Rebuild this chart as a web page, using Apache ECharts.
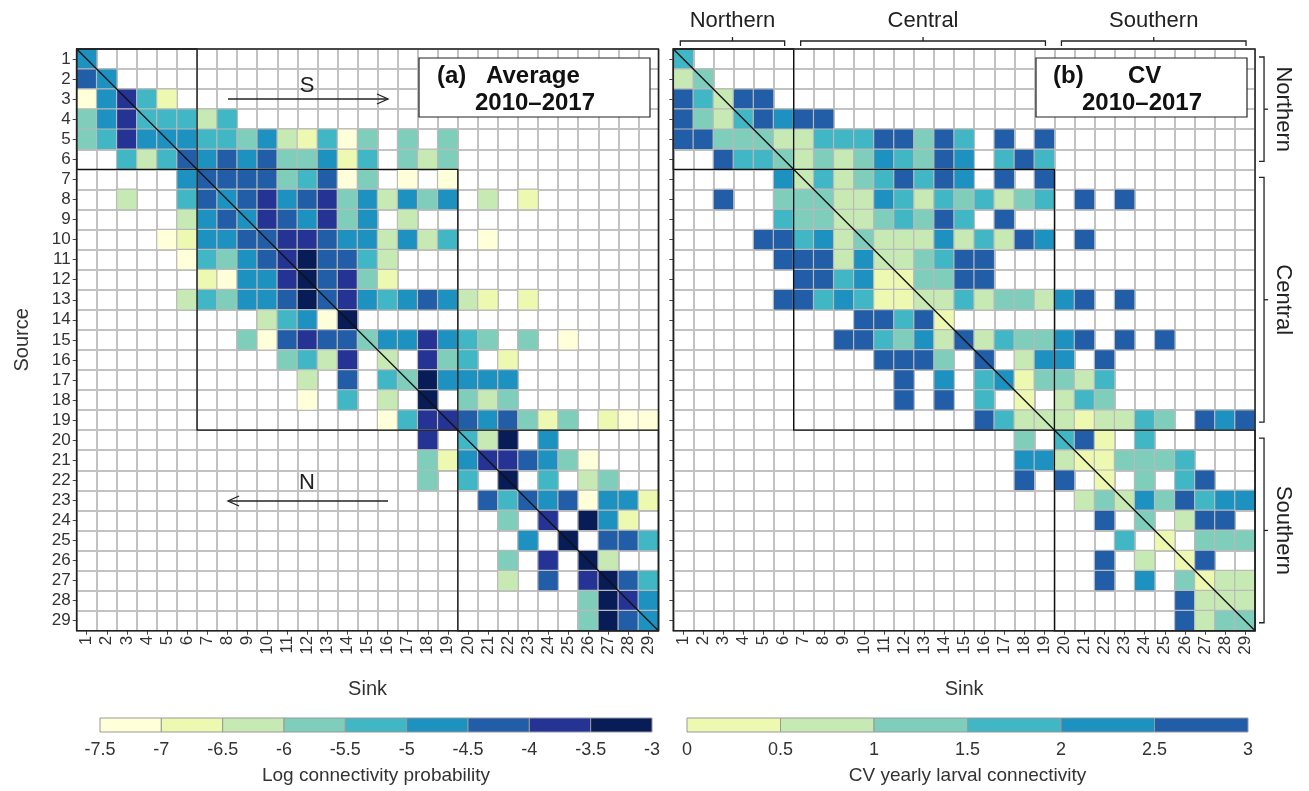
<!DOCTYPE html>
<html>
<head>
<meta charset="utf-8">
<title>Larval connectivity 2010-2017</title>
<script src="https://cdn.jsdelivr.net/npm/echarts@6/dist/echarts.min.js"></script>
<style>
  html, body { margin: 0; padding: 0; background: #fff; }
  #chart { width: 1309px; height: 791px; }
</style>
</head>
<body>
<div id="chart"></div>
<script>
const _ = null

// sites 1..29, source = rows, sink = columns
const sites = Array.from({ length: 29 }, (v, i) => String(i + 1))

// first sink holding a value in each source row (same cells in both panels)
const rowStart = [1, 1, 1, 1, 1, 3, 6, 3, 6, 5, 6, 7, 6, 10, 9, 11, 12, 12, 16, 18, 18, 18, 21, 22, 23, 22, 22, 26, 26]

// (a) average log connectivity probability
const avgLog = [
  [-4.8],
  [-4.2, -4.8],
  [-7.2, -4.8, -3.8, -5.2, -6.8],
  [-5.8, -4.8, -3.8, -5.2, -5.2, -5.2, -6.2, -5.2],
  [-5.8, -5.2, -3.8, -4.8, -4.8, -4.8, -5.2, -5.2, -5.8, -4.8, -6.2, -6.8, -5.2, -7.2, -5.8, _, -5.8, _, -5.8],
  [-5.2, -6.2, -5.2, -4.2, -4.8, -4.2, -4.8, -4.2, -5.8, -5.8, -4.8, -6.8, -5.2, _, -5.8, -6.2, -5.8],
  [-4.8, -4.2, -4.2, -4.2, -4.2, -5.8, -5.2, -4.2, -7.2, -5.8, _, -7.2, _, -7.2],
  [-6.2, _, _, -5.2, -4.2, -4.8, -4.2, -3.8, -4.8, -4.2, -3.8, -5.8, -4.8, -6.2, -4.8, -5.8, -4.8, _, -6.2, _, -6.8],
  [-6.2, -4.8, -4.2, -4.8, -3.8, -4.2, -4.8, -3.8, -5.8, -4.8, _, -6.2],
  [-7.2, -6.8, -4.8, -4.8, -4.2, -4.2, -3.8, -3.8, -4.2, -4.8, -4.8, -6.2, -4.8, -6.2, -5.2, _, -7.2],
  [-7.2, -5.2, -5.8, -4.8, -4.2, -3.8, -3.2, -4.2, -4.2, -5.2, -6.2],
  [-6.8, -7.2, -4.8, -4.8, -3.8, -3.2, -4.2, -3.8, -5.8, -6.8],
  [-6.2, -5.2, -5.8, -4.8, -4.8, -4.2, -3.2, -4.2, -3.8, -4.8, -5.2, -4.8, -4.2, -4.8, -6.2, -6.8, _, -6.8],
  [-6.2, -5.2, -4.8, -7.2, -3.2],
  [-5.8, -7.2, -4.2, -3.8, -4.2, -4.2, -5.8, -4.8, -4.8, -3.8, -4.8, -5.2, -5.8, _, -5.8, _, -7.2],
  [-5.8, -5.2, -6.2, -3.8, _, -6.2, _, -3.8, -5.8, -5.2, _, -6.8],
  [-6.2, _, -4.2, _, -5.2, -5.8, -3.2, -4.8, -4.8, -4.8, -4.8],
  [-7.2, _, -5.2, _, -6.2, _, -3.2, _, -5.8, -6.2, -5.8],
  [-7.2, -5.2, -3.8, -3.8, -4.2, -4.8, -4.2, -5.8, -6.8, -5.8, _, -6.8, -7.2, -7.2],
  [-3.8, _, -5.2, -6.2, -3.2, _, -4.8],
  [-5.8, -6.8, -4.8, -3.8, -3.8, -4.2, -4.8, -5.8, -7.2],
  [-5.8, _, -5.2, _, -3.2, _, -5.2, _, -6.2, -5.8],
  [-4.2, -5.2, -4.2, -4.8, -4.2, -7.2, -4.8, -4.8, -6.8],
  [-5.8, _, -3.8, _, -3.2, -4.8, -6.8],
  [-4.8, _, -3.2, _, -4.2, -4.2, -5.2],
  [-5.8, _, -3.8, _, -3.2, -6.2],
  [-6.2, _, -4.2, _, -3.8, -3.2, -4.2, -5.2],
  [-5.8, -3.2, -3.8, -4.8],
  [-5.8, -3.2, -4.2, -4.8]
]

// (b) CV of yearly larval connectivity
const cvYearly = [
  [1.8],
  [0.8, 1.2],
  [2.8, 1.8, 0.8, 2.8, 2.8],
  [2.8, 1.2, 0.8, 1.8, 2.8, 2.2, 2.8, 2.8],
  [2.8, 2.8, 1.2, 1.2, 1.2, 0.8, 0.8, 1.8, 1.8, 1.8, 2.8, 2.8, 1.2, 2.8, 1.8, _, 2.8, _, 2.8],
  [2.8, 1.8, 1.8, 1.2, 0.8, 1.2, 0.8, 1.2, 2.2, 1.8, 1.2, 2.8, 2.2, _, 1.8, 2.8, 1.8],
  [2.2, 0.8, 1.8, 0.8, 1.2, 1.8, 2.8, 1.8, 2.8, 2.2, _, 2.8, _, 2.8],
  [2.8, _, _, 1.2, 1.2, 1.2, 0.8, 0.8, 2.2, 1.8, 0.8, 1.8, 1.2, 1.8, 0.8, 1.2, 1.8, _, 2.8, _, 2.8],
  [1.8, 1.2, 1.2, 0.8, 0.8, 1.2, 1.8, 1.2, 2.8, 1.8, _, 2.8],
  [2.8, 2.8, 1.8, 2.2, 0.8, 1.2, 0.8, 0.8, 0.8, 2.2, 0.8, 1.8, 0.8, 2.8, 2.2, _, 2.8],
  [2.8, 2.8, 2.8, 0.8, 2.2, 0.8, 0.8, 1.2, 1.8, 2.8, 2.8],
  [2.8, 2.8, 1.8, 2.2, 0.2, 0.2, 1.2, 1.2, 2.8, 2.8],
  [2.8, 2.8, 1.8, 2.2, 1.8, 0.2, 0.2, 0.8, 0.8, 1.8, 0.8, 1.2, 1.2, 0.8, 2.2, 2.8, _, 2.8],
  [2.8, 2.8, 1.8, 2.8, 0.2],
  [2.8, 2.8, 1.8, 1.2, 2.2, 0.8, 2.8, 0.8, 1.8, 1.2, 1.2, 2.2, 2.8, _, 2.8, _, 2.8],
  [2.8, 2.8, 2.8, 1.2, _, 2.8, _, 0.8, 2.2, 2.2, _, 2.8],
  [2.8, _, 2.2, _, 1.8, 2.2, 0.2, 1.2, 1.2, 0.8, 1.8],
  [2.8, _, 2.8, _, 1.8, _, 0.2, _, 0.8, 1.8, 1.2],
  [2.8, 1.8, 0.8, 0.8, 0.8, 0.2, 0.8, 0.8, 1.8, 1.2, _, 2.8, 2.2, 2.8],
  [1.2, _, 1.8, 2.8, 0.2, _, 1.8],
  [2.2, 2.2, 0.8, 0.2, 0.2, 1.2, 1.2, 1.2, 1.8],
  [2.8, _, 2.8, _, 0.2, _, 1.2, _, 1.8, 2.8],
  [0.8, 1.2, 0.8, 2.2, 1.2, 2.8, 1.8, 2.2, 2.2],
  [2.8, _, 1.2, _, 0.8, 2.8, 2.8],
  [1.8, _, 0.2, _, 1.2, 1.2, 1.2],
  [2.8, _, 0.8, _, 0.2, 2.8],
  [2.8, _, 2.2, _, 1.2, 0.2, 0.8, 0.8],
  [2.8, 0.8, 0.8, 0.8],
  [2.8, 0.8, 1.2, 1.2]
]

const logBreaks = [-7.5, -7, -6.5, -6, -5.5, -5, -4.5, -4, -3.5, -3]
const cvBreaks = [0, 0.5, 1, 1.5, 2, 2.5, 3]
const ylGnBu = ['#ffffd9', '#edf8b1', '#c7e9b4', '#7fcdbb', '#41b6c4', '#1d91c0', '#225ea8', '#253494', '#081d58']
const cvColors = ylGnBu.slice(1, 7)

const regions = [
  { name: 'Northern', from: 1, to: 6 },
  { name: 'Central', from: 7, to: 19 },
  { name: 'Southern', from: 20, to: 29 }
]

// layout
const font = 'Liberation Sans, Arial, sans-serif'
const cell = 20.06
const panelTop = 49
const panelLeft = [76.7, 673.3]
const panelSize = cell * 29
const topZ = 100

function toCells (rows) {
  const out = []
  rows.forEach((row, r) => {
    row.forEach((v, k) => {
      if (v !== null) out.push([rowStart[r] - 1 + k, r, v])
    })
  })
  return out
}

function pieces (breaks, colors) {
  return colors.map((c, i) => ({ gte: breaks[i], lt: breaks[i + 1], color: c }))
}

function matrixX (gridIndex) {
  return {
    type: 'category',
    gridIndex: gridIndex,
    data: sites,
    position: 'bottom',
    axisLine: { show: true, lineStyle: { color: '#222', width: 1.2 } },
    axisTick: { show: true, alignWithLabel: true, length: 4, lineStyle: { color: '#444' } },
    axisLabel: { rotate: 90, interval: 0, fontSize: 17, color: '#333', margin: 5, fontFamily: font },
    splitLine: { show: true, interval: 0, lineStyle: { color: '#c2c2c2', width: 2 } },
    name: 'Sink',
    nameLocation: 'middle',
    nameGap: 49,
    nameTextStyle: { fontSize: 20, color: '#333', fontFamily: font }
  }
}

function matrixY (gridIndex, withLabels) {
  return {
    type: 'category',
    gridIndex: gridIndex,
    data: sites,
    inverse: true,
    axisLine: { show: true, lineStyle: { color: '#222', width: 1.2 } },
    axisTick: { show: true, alignWithLabel: true, length: 4, lineStyle: { color: '#444' } },
    axisLabel: { show: withLabels, interval: 0, fontSize: 17, color: '#333', margin: 6, fontFamily: font },
    splitLine: { show: true, interval: 0, lineStyle: { color: '#c2c2c2', width: 2 } },
    name: withLabels ? 'Source' : '',
    nameLocation: 'middle',
    nameRotate: 90,
    nameGap: 44,
    nameTextStyle: { fontSize: 20, color: '#333', fontFamily: font }
  }
}

function barAxis (gridIndex, breaks, title) {
  return {
    type: 'value',
    gridIndex: gridIndex,
    min: breaks[0],
    max: breaks[breaks.length - 1],
    interval: 0.5,
    axisLine: { show: false },
    axisTick: { show: false },
    splitLine: { show: false },
    axisLabel: { fontSize: 18, color: '#333', margin: 9, fontFamily: font },
    name: title,
    nameLocation: 'middle',
    nameGap: 34,
    nameTextStyle: { fontSize: 19, color: '#333', fontFamily: font }
  }
}

// frame, region boxes and diagonal drawn on top of the matrix
function overlaySeries (gridIndex) {
  return {
    type: 'custom',
    xAxisIndex: gridIndex,
    yAxisIndex: gridIndex,
    silent: true,
    z: 10,
    data: [[0, 0]],
    renderItem: function (params, api) {
      const size = api.size([1, 1])
      const tl = (i) => { const c = api.coord([i, i]); return [c[0] - size[0] / 2, c[1] - size[1] / 2] }
      const br = (i) => { const c = api.coord([i, i]); return [c[0] + size[0] / 2, c[1] + size[1] / 2] }
      const lineStyle = { fill: 'none', stroke: '#111', lineWidth: 1.3 }
      const children = regions.map(function (g) {
        const a = tl(g.from - 1)
        const b = br(g.to - 1)
        return { type: 'rect', shape: { x: a[0], y: a[1], width: b[0] - a[0], height: b[1] - a[1] }, style: lineStyle }
      })
      const a0 = tl(0)
      const b0 = br(28)
      children.push({ type: 'line', shape: { x1: a0[0], y1: a0[1], x2: b0[0], y2: b0[1] }, style: lineStyle })
      children.push({ type: 'rect', shape: { x: a0[0], y: a0[1], width: b0[0] - a0[0], height: b0[1] - a0[1] }, style: { fill: 'none', stroke: '#222', lineWidth: 1.5 } })
      return { type: 'group', children: children }
    }
  }
}

function colorBarSeries (gridIndex, breaks, colors) {
  return {
    type: 'custom',
    xAxisIndex: gridIndex,
    yAxisIndex: gridIndex,
    silent: true,
    encode: { x: [0, 1], y: 3 },
    data: colors.map((c, i) => [breaks[i], breaks[i + 1], i, 0]),
    renderItem: function (params, api) {
      const lo = api.coord([api.value(0), 0])
      const hi = api.coord([api.value(1), 0])
      const h = api.size([0, 1])[1]
      return {
        type: 'rect',
        shape: { x: lo[0], y: lo[1] - h / 2, width: hi[0] - lo[0], height: h },
        style: { fill: colors[api.value(2)], stroke: '#999', lineWidth: 1 }
      }
    }
  }
}

function titleBox (x, w, first, second) {
  const bold = 'bold 24px ' + font
  return [
    { type: 'rect', z: topZ, shape: { x: x, y: 58, width: w, height: 59 }, style: { fill: '#fff', stroke: '#222', lineWidth: 1.2 } },
    { type: 'text', z: topZ + 1, x: first[1], y: 76, style: { text: first[0], font: bold, fill: '#111', verticalAlign: 'middle' } },
    { type: 'text', z: topZ + 1, x: first[3], y: 76, style: { text: first[2], font: bold, fill: '#111', verticalAlign: 'middle' } },
    { type: 'text', z: topZ + 1, x: second, y: 103, style: { text: '2010\u20132017', font: bold, fill: '#111', align: 'center', verticalAlign: 'middle' } }
  ]
}

function arrow (label, fromX, toX, y, labelY) {
  const d = toX > fromX ? -11 : 11
  const stroke = { stroke: '#222', lineWidth: 1.3, fill: 'none' }
  return [
    { type: 'line', z: topZ, shape: { x1: fromX, y1: y, x2: toX, y2: y }, style: stroke },
    { type: 'polyline', z: topZ, shape: { points: [[toX + d, y - 5], [toX, y], [toX + d, y + 5]] }, style: stroke },
    { type: 'text', z: topZ, x: (fromX + toX) / 2 - 1, y: labelY, style: { text: label, font: '22px ' + font, fill: '#222', align: 'center', verticalAlign: 'middle' } }
  ]
}

// region brackets around panel (b)
function brackets () {
  const els = []
  const stroke = { stroke: '#222', lineWidth: 1.3, fill: 'none' }
  const left = panelLeft[1]
  const right = left + panelSize
  regions.forEach(function (g) {
    const x0 = left + (g.from - 1) * cell + 7
    const x1 = left + g.to * cell - 9
    const xm = (x0 + x1) / 2
    els.push({ type: 'polyline', shape: { points: [[x0, 46], [x0, 41], [x1, 41], [x1, 46]] }, style: stroke })
    els.push({ type: 'line', shape: { x1: xm, y1: 41, x2: xm, y2: 37 }, style: stroke })
    els.push({ type: 'text', x: xm, y: 21, style: { text: g.name, font: '22px ' + font, fill: '#222', align: 'center', verticalAlign: 'middle' } })

    const y0 = panelTop + (g.from - 1) * cell + 8
    const y1 = panelTop + g.to * cell - 8
    const ym = (y0 + y1) / 2
    const bx = right + 9
    els.push({ type: 'polyline', shape: { points: [[bx - 5, y0], [bx, y0], [bx, y1], [bx - 5, y1]] }, style: stroke })
    els.push({ type: 'line', shape: { x1: bx, y1: ym, x2: bx + 4, y2: ym }, style: stroke })
    els.push({ type: 'text', x: bx + 19, y: ym, rotation: -Math.PI / 2, style: { text: g.name, font: '22px ' + font, fill: '#222', align: 'center', verticalAlign: 'middle' } })
  })
  return els
}

const chart = echarts.init(document.getElementById('chart'), null, { renderer: 'canvas' })

chart.setOption({
  animation: false,
  backgroundColor: '#fff',
  textStyle: { fontFamily: font },
  grid: [
    { left: panelLeft[0], top: panelTop, width: panelSize, height: panelSize, show: true, backgroundColor: '#fff', borderWidth: 0 },
    { left: panelLeft[1], top: panelTop, width: panelSize, height: panelSize, show: true, backgroundColor: '#fff', borderWidth: 0 },
    { left: 100, top: 718, width: 552, height: 14 },
    { left: 687, top: 718, width: 561, height: 14 }
  ],
  xAxis: [
    matrixX(0),
    matrixX(1),
    barAxis(2, logBreaks, 'Log connectivity probability'),
    barAxis(3, cvBreaks, 'CV yearly larval connectivity')
  ],
  yAxis: [
    matrixY(0, true),
    matrixY(1, false),
    { type: 'category', gridIndex: 2, data: ['bar'], show: false },
    { type: 'category', gridIndex: 3, data: ['bar'], show: false }
  ],
  visualMap: [
    { type: 'piecewise', show: false, seriesIndex: 0, dimension: 2, pieces: pieces(logBreaks, ylGnBu) },
    { type: 'piecewise', show: false, seriesIndex: 1, dimension: 2, pieces: pieces(cvBreaks, cvColors) }
  ],
  series: [
    {
      type: 'heatmap',
      xAxisIndex: 0,
      yAxisIndex: 0,
      data: toCells(avgLog),
      itemStyle: { borderColor: '#bababa', borderWidth: 1.2 },
      emphasis: { disabled: true }
    },
    {
      type: 'heatmap',
      xAxisIndex: 1,
      yAxisIndex: 1,
      data: toCells(cvYearly),
      itemStyle: { borderColor: '#bababa', borderWidth: 1.2 },
      emphasis: { disabled: true }
    },
    overlaySeries(0),
    overlaySeries(1),
    colorBarSeries(2, logBreaks, ylGnBu),
    colorBarSeries(3, cvBreaks, cvColors)
  ],
  graphic: {
    elements: [].concat(
      titleBox(419, 231, ['(a)', 437, 'Average', 486], 535),
      titleBox(1036, 211, ['(b)', 1053, 'CV', 1128], 1142),
      arrow('S', 228, 388, 99, 86),
      arrow('N', 388, 228, 501, 483),
      brackets()
    )
  }
})
</script>
</body>
</html>
